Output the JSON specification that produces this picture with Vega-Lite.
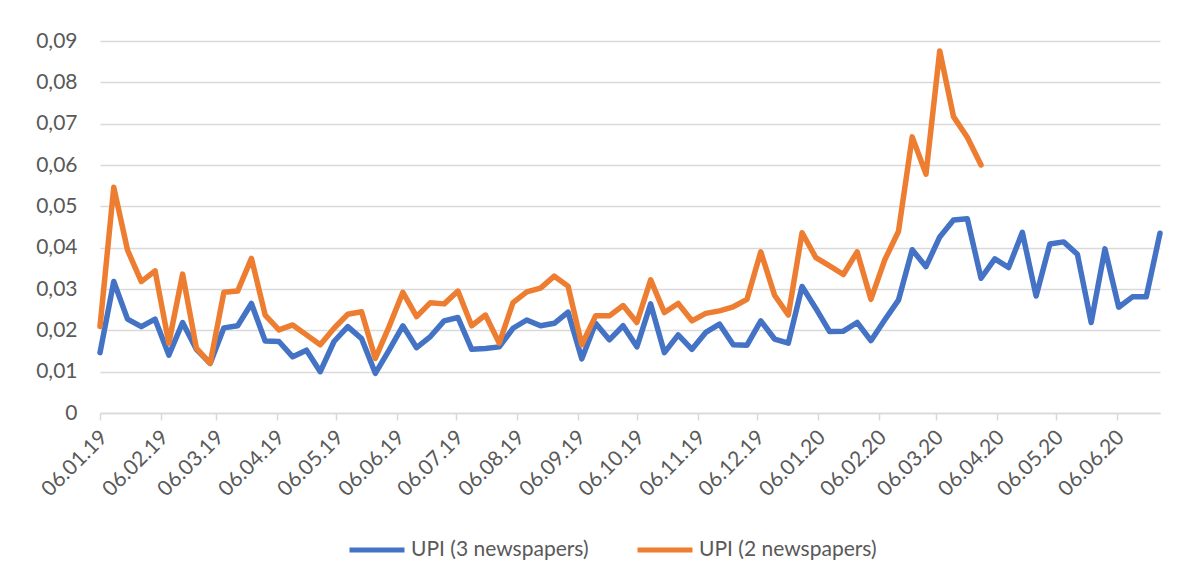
{
  "$schema": "https://vega.github.io/schema/vega-lite/v6.json",
  "width": 1060,
  "height": 372,
  "autosize": "none",
  "padding": {"left": 100, "top": 41, "right": 44, "bottom": 168},
  "background": "white",
  "data": {"values": [
    {"date": "2019-01-06", "UPI (3 newspapers)": 0.0146, "UPI (2 newspapers)": 0.0209},
    {"date": "2019-01-13", "UPI (3 newspapers)": 0.0318, "UPI (2 newspapers)": 0.0546},
    {"date": "2019-01-20", "UPI (3 newspapers)": 0.0227, "UPI (2 newspapers)": 0.0394},
    {"date": "2019-01-27", "UPI (3 newspapers)": 0.0209, "UPI (2 newspapers)": 0.0318},
    {"date": "2019-02-03", "UPI (3 newspapers)": 0.0227, "UPI (2 newspapers)": 0.0344},
    {"date": "2019-02-10", "UPI (3 newspapers)": 0.0140, "UPI (2 newspapers)": 0.0169},
    {"date": "2019-02-17", "UPI (3 newspapers)": 0.0219, "UPI (2 newspapers)": 0.0336},
    {"date": "2019-02-24", "UPI (3 newspapers)": 0.0154, "UPI (2 newspapers)": 0.0157},
    {"date": "2019-03-03", "UPI (3 newspapers)": 0.0120, "UPI (2 newspapers)": 0.0120},
    {"date": "2019-03-10", "UPI (3 newspapers)": 0.0206, "UPI (2 newspapers)": 0.0292},
    {"date": "2019-03-17", "UPI (3 newspapers)": 0.0211, "UPI (2 newspapers)": 0.0295},
    {"date": "2019-03-24", "UPI (3 newspapers)": 0.0265, "UPI (2 newspapers)": 0.0374},
    {"date": "2019-03-31", "UPI (3 newspapers)": 0.0174, "UPI (2 newspapers)": 0.0237},
    {"date": "2019-04-07", "UPI (3 newspapers)": 0.0173, "UPI (2 newspapers)": 0.0201},
    {"date": "2019-04-14", "UPI (3 newspapers)": 0.0136, "UPI (2 newspapers)": 0.0213},
    {"date": "2019-04-21", "UPI (3 newspapers)": 0.0152, "UPI (2 newspapers)": 0.0189},
    {"date": "2019-04-28", "UPI (3 newspapers)": 0.0100, "UPI (2 newspapers)": 0.0165},
    {"date": "2019-05-05", "UPI (3 newspapers)": 0.0173, "UPI (2 newspapers)": 0.0205},
    {"date": "2019-05-12", "UPI (3 newspapers)": 0.0209, "UPI (2 newspapers)": 0.0239},
    {"date": "2019-05-19", "UPI (3 newspapers)": 0.0180, "UPI (2 newspapers)": 0.0245},
    {"date": "2019-05-26", "UPI (3 newspapers)": 0.0096, "UPI (2 newspapers)": 0.0132},
    {"date": "2019-06-02", "UPI (3 newspapers)": 0.0152, "UPI (2 newspapers)": 0.0209},
    {"date": "2019-06-09", "UPI (3 newspapers)": 0.0211, "UPI (2 newspapers)": 0.0292},
    {"date": "2019-06-16", "UPI (3 newspapers)": 0.0158, "UPI (2 newspapers)": 0.0233},
    {"date": "2019-06-23", "UPI (3 newspapers)": 0.0185, "UPI (2 newspapers)": 0.0267},
    {"date": "2019-06-30", "UPI (3 newspapers)": 0.0223, "UPI (2 newspapers)": 0.0264},
    {"date": "2019-07-07", "UPI (3 newspapers)": 0.0231, "UPI (2 newspapers)": 0.0295},
    {"date": "2019-07-14", "UPI (3 newspapers)": 0.0154, "UPI (2 newspapers)": 0.0211},
    {"date": "2019-07-21", "UPI (3 newspapers)": 0.0156, "UPI (2 newspapers)": 0.0237},
    {"date": "2019-07-28", "UPI (3 newspapers)": 0.0160, "UPI (2 newspapers)": 0.0169},
    {"date": "2019-08-04", "UPI (3 newspapers)": 0.0205, "UPI (2 newspapers)": 0.0267},
    {"date": "2019-08-11", "UPI (3 newspapers)": 0.0225, "UPI (2 newspapers)": 0.0293},
    {"date": "2019-08-18", "UPI (3 newspapers)": 0.0211, "UPI (2 newspapers)": 0.0302},
    {"date": "2019-08-25", "UPI (3 newspapers)": 0.0217, "UPI (2 newspapers)": 0.0331},
    {"date": "2019-09-01", "UPI (3 newspapers)": 0.0244, "UPI (2 newspapers)": 0.0307},
    {"date": "2019-09-08", "UPI (3 newspapers)": 0.0131, "UPI (2 newspapers)": 0.0165},
    {"date": "2019-09-15", "UPI (3 newspapers)": 0.0217, "UPI (2 newspapers)": 0.0235},
    {"date": "2019-09-22", "UPI (3 newspapers)": 0.0177, "UPI (2 newspapers)": 0.0235},
    {"date": "2019-09-29", "UPI (3 newspapers)": 0.0211, "UPI (2 newspapers)": 0.0260},
    {"date": "2019-10-06", "UPI (3 newspapers)": 0.0160, "UPI (2 newspapers)": 0.0219},
    {"date": "2019-10-13", "UPI (3 newspapers)": 0.0264, "UPI (2 newspapers)": 0.0322},
    {"date": "2019-10-20", "UPI (3 newspapers)": 0.0146, "UPI (2 newspapers)": 0.0243},
    {"date": "2019-10-27", "UPI (3 newspapers)": 0.0189, "UPI (2 newspapers)": 0.0265},
    {"date": "2019-11-03", "UPI (3 newspapers)": 0.0154, "UPI (2 newspapers)": 0.0223},
    {"date": "2019-11-10", "UPI (3 newspapers)": 0.0195, "UPI (2 newspapers)": 0.0241},
    {"date": "2019-11-17", "UPI (3 newspapers)": 0.0215, "UPI (2 newspapers)": 0.0247},
    {"date": "2019-11-24", "UPI (3 newspapers)": 0.0165, "UPI (2 newspapers)": 0.0257},
    {"date": "2019-12-01", "UPI (3 newspapers)": 0.0164, "UPI (2 newspapers)": 0.0275},
    {"date": "2019-12-08", "UPI (3 newspapers)": 0.0223, "UPI (2 newspapers)": 0.0390},
    {"date": "2019-12-15", "UPI (3 newspapers)": 0.0179, "UPI (2 newspapers)": 0.0285},
    {"date": "2019-12-22", "UPI (3 newspapers)": 0.0169, "UPI (2 newspapers)": 0.0237},
    {"date": "2019-12-29", "UPI (3 newspapers)": 0.0306, "UPI (2 newspapers)": 0.0436},
    {"date": "2020-01-05", "UPI (3 newspapers)": 0.0253, "UPI (2 newspapers)": 0.0376},
    {"date": "2020-01-12", "UPI (3 newspapers)": 0.0197, "UPI (2 newspapers)": 0.0356},
    {"date": "2020-01-19", "UPI (3 newspapers)": 0.0198, "UPI (2 newspapers)": 0.0335},
    {"date": "2020-01-26", "UPI (3 newspapers)": 0.0219, "UPI (2 newspapers)": 0.0390},
    {"date": "2020-02-02", "UPI (3 newspapers)": 0.0175, "UPI (2 newspapers)": 0.0275},
    {"date": "2020-02-09", "UPI (3 newspapers)": 0.0225, "UPI (2 newspapers)": 0.0370},
    {"date": "2020-02-16", "UPI (3 newspapers)": 0.0273, "UPI (2 newspapers)": 0.0439},
    {"date": "2020-02-23", "UPI (3 newspapers)": 0.0395, "UPI (2 newspapers)": 0.0668},
    {"date": "2020-03-01", "UPI (3 newspapers)": 0.0354, "UPI (2 newspapers)": 0.0578},
    {"date": "2020-03-08", "UPI (3 newspapers)": 0.0426, "UPI (2 newspapers)": 0.0876},
    {"date": "2020-03-15", "UPI (3 newspapers)": 0.0467, "UPI (2 newspapers)": 0.0717},
    {"date": "2020-03-22", "UPI (3 newspapers)": 0.0470, "UPI (2 newspapers)": 0.0667},
    {"date": "2020-03-29", "UPI (3 newspapers)": 0.0326, "UPI (2 newspapers)": 0.0600},
    {"date": "2020-04-05", "UPI (3 newspapers)": 0.0373},
    {"date": "2020-04-12", "UPI (3 newspapers)": 0.0352},
    {"date": "2020-04-19", "UPI (3 newspapers)": 0.0437},
    {"date": "2020-04-26", "UPI (3 newspapers)": 0.0283},
    {"date": "2020-05-03", "UPI (3 newspapers)": 0.0409},
    {"date": "2020-05-10", "UPI (3 newspapers)": 0.0414},
    {"date": "2020-05-17", "UPI (3 newspapers)": 0.0384},
    {"date": "2020-05-24", "UPI (3 newspapers)": 0.0219},
    {"date": "2020-05-31", "UPI (3 newspapers)": 0.0397},
    {"date": "2020-06-07", "UPI (3 newspapers)": 0.0256},
    {"date": "2020-06-14", "UPI (3 newspapers)": 0.0281},
    {"date": "2020-06-21", "UPI (3 newspapers)": 0.0281},
    {"date": "2020-06-28", "UPI (3 newspapers)": 0.0435}
  ]},
  "transform": [
    {"fold": ["UPI (3 newspapers)", "UPI (2 newspapers)"], "as": ["series", "value"]},
    {"filter": "isValid(datum.value)"}
  ],
  "mark": {"type": "line", "strokeWidth": 5.5, "strokeJoin": "round", "strokeCap": "round"},
  "encoding": {
    "x": {
      "field": "date", "type": "temporal",
      "scale": {"type": "utc", "nice": false, "domain": [
        {"year": 2019, "month": 1, "date": 6, "utc": true},
        {"year": 2020, "month": 6, "date": 28, "utc": true}
      ]},
      "axis": {
        "title": null,
        "grid": false,
        "values": [
          {"year": 2019, "month": 1, "date": 6, "utc": true},
          {"year": 2019, "month": 2, "date": 6, "utc": true},
          {"year": 2019, "month": 3, "date": 6, "utc": true},
          {"year": 2019, "month": 4, "date": 6, "utc": true},
          {"year": 2019, "month": 5, "date": 6, "utc": true},
          {"year": 2019, "month": 6, "date": 6, "utc": true},
          {"year": 2019, "month": 7, "date": 6, "utc": true},
          {"year": 2019, "month": 8, "date": 6, "utc": true},
          {"year": 2019, "month": 9, "date": 6, "utc": true},
          {"year": 2019, "month": 10, "date": 6, "utc": true},
          {"year": 2019, "month": 11, "date": 6, "utc": true},
          {"year": 2019, "month": 12, "date": 6, "utc": true},
          {"year": 2020, "month": 1, "date": 6, "utc": true},
          {"year": 2020, "month": 2, "date": 6, "utc": true},
          {"year": 2020, "month": 3, "date": 6, "utc": true},
          {"year": 2020, "month": 4, "date": 6, "utc": true},
          {"year": 2020, "month": 5, "date": 6, "utc": true},
          {"year": 2020, "month": 6, "date": 6, "utc": true}
        ],
        "labelExpr": "utcFormat(datum.value, '%d.%m.%y')",
        "labelAngle": -45,
        "labelAlign": "right",
        "labelBaseline": "middle",
        "labelPadding": 14,
        "labelOffset": 4,
        "labelOverlap": false,
        "labelFont": "Lato",
        "labelFontSize": 21,
        "labelColor": "#595959",
        "tickSize": 7,
        "tickColor": "#D9D9D9",
        "tickWidth": 1.5,
        "domainColor": "#D9D9D9",
        "domainWidth": 1.5
      }
    },
    "y": {
      "field": "value", "type": "quantitative",
      "scale": {"domain": [0, 0.09], "nice": false, "zero": true},
      "axis": {
        "title": null,
        "values": [0, 0.01, 0.02, 0.03, 0.04, 0.05, 0.06, 0.07, 0.08, 0.09],
        "labelExpr": "datum.value == 0 ? '0' : replace(format(datum.value, '.2f'), '.', ',')",
        "domain": false,
        "ticks": false,
        "gridColor": "#D9D9D9",
        "gridWidth": 1.3,
        "labelPadding": 23,
        "labelFont": "Lato",
        "labelFontSize": 21,
        "labelColor": "#595959"
      }
    },
    "color": {
      "field": "series", "type": "nominal",
      "scale": {"domain": ["UPI (3 newspapers)", "UPI (2 newspapers)"], "range": ["#4472C4", "#ED7D31"]},
      "legend": {
        "title": null,
        "orient": "none",
        "legendX": 247,
        "legendY": 479,
        "direction": "horizontal",
        "symbolType": "stroke",
        "symbolSize": 3025,
        "symbolStrokeWidth": 5,
        "labelFont": "Lato",
        "labelFontSize": 21,
        "labelColor": "#595959",
        "labelLimit": 0,
        "labelOffset": 4,
        "columnPadding": 38
      }
    }
  },
  "config": {"view": {"stroke": null}}
}
